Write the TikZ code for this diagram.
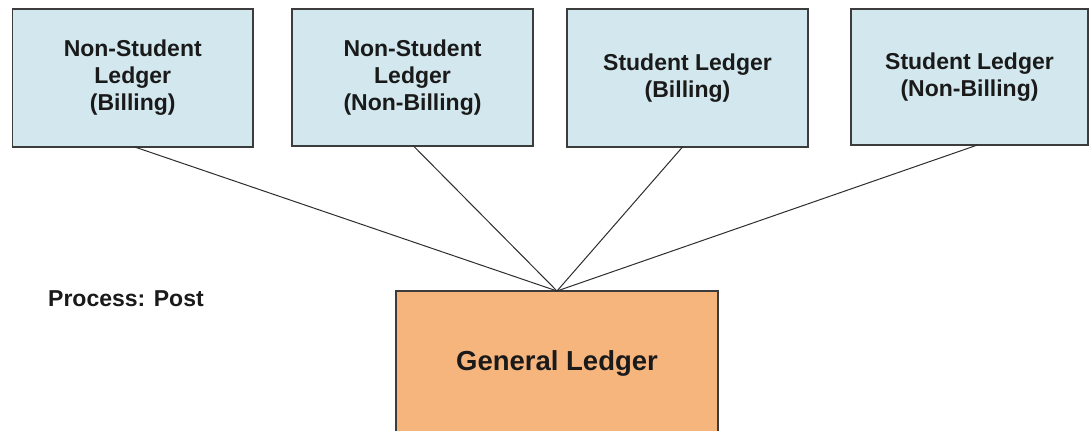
\documentclass[tikz,border=0pt]{standalone}
\usepackage{fontspec}
\setmainfont{Liberation Sans}
\definecolor{ledgerblue}{HTML}{D2E8EE}
\definecolor{glorange}{HTML}{F7B57E}
\definecolor{bordergray}{HTML}{3C3C3C}
\definecolor{linegray}{HTML}{2E2E2E}
\definecolor{textdark}{HTML}{1A1A1A}
\begin{document}
\begin{tikzpicture}[x=1pt,y=-1pt,
  ledger/.style={draw=bordergray, line width=1.4pt, fill=ledgerblue, anchor=north west,
    text=textdark, font=\bfseries\fontsize{23}{27}\selectfont, align=center, inner sep=0pt, outer sep=0pt},
  general/.style={draw=bordergray, line width=1.4pt, fill=glorange, anchor=north west,
    text=textdark, font=\bfseries\fontsize{27.5}{31}\selectfont, inner sep=0pt, outer sep=0pt,
    text height=10pt, text depth=10pt},
  caption/.style={text=textdark, font=\bfseries\fontsize{23}{27}\selectfont, anchor=base west, inner sep=0pt},
  link/.style={draw=linegray, line width=1pt}]
\useasboundingbox (0,0) rectangle (1090,431);
\clip (0,0) rectangle (1090,431);
\fill[white] (0,0) rectangle (1090,431);

\node[ledger, minimum width=240.5pt, minimum height=138pt] (b1) at (12.5,9)
  {Non-Student\\Ledger\\(Billing)};
\node[ledger, minimum width=241pt, minimum height=137pt] (b2) at (292,9)
  {Non-Student\\Ledger\\(Non-Billing)};
\node[ledger, minimum width=241pt, minimum height=138pt] (b3) at (567,9)
  {Student Ledger\\(Billing)};
\node[ledger, minimum width=237pt, minimum height=136pt] (b4) at (851,9)
  {Student Ledger\\(Non-Billing)};

\node[general, minimum width=322pt, minimum height=158pt] (gl) at (396,291)
  {General Ledger};

\node[caption] (proc) at (48,306) {Process: Post};

\draw[link] ([xshift=2pt]b1.south) -- (gl.north);
\draw[link] ([xshift=1pt]b2.south) -- (gl.north);
\draw[link] ([xshift=-5pt]b3.south) -- (gl.north);
\draw[link] ([xshift=8pt]b4.south) -- (gl.north);
\end{tikzpicture}
\end{document}
